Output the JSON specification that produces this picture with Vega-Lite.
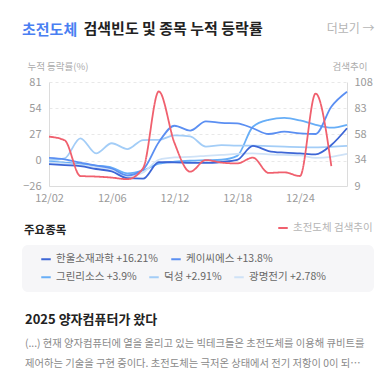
{
  "$schema": "https://vega.github.io/schema/vega-lite/v6.json",
  "padding": {"left": 22, "top": 21, "right": 10, "bottom": 5},
  "background": "#ffffff",
  "title": {"text": "초전도체", "anchor": "start", "frame": "group", "color": "#4a7ff2", "fontSize": 15, "fontWeight": "bold", "offset": -17},
  "bounds": "flush",
  "center": true,
  "spacing": 59,
  "datasets": {
    "stocks": [
      {"date": "12/02", "name": "한울소재과학", "v": -3.5}, {"date": "12/03", "name": "한울소재과학", "v": -4.5}, {"date": "12/04", "name": "한울소재과학", "v": -5.5}, {"date": "12/05", "name": "한울소재과학", "v": -8.5}, {"date": "12/06", "name": "한울소재과학", "v": -11}, {"date": "12/09", "name": "한울소재과학", "v": -18}, {"date": "12/10", "name": "한울소재과학", "v": -18.5}, {"date": "12/11", "name": "한울소재과학", "v": -1.5}, {"date": "12/12", "name": "한울소재과학", "v": -1.6}, {"date": "12/13", "name": "한울소재과학", "v": -2.3}, {"date": "12/16", "name": "한울소재과학", "v": -2.3}, {"date": "12/17", "name": "한울소재과학", "v": -1.3}, {"date": "12/18", "name": "한울소재과학", "v": 0.8}, {"date": "12/19", "name": "한울소재과학", "v": 15.2}, {"date": "12/20", "name": "한울소재과학", "v": 10}, {"date": "12/23", "name": "한울소재과학", "v": 8.3}, {"date": "12/24", "name": "한울소재과학", "v": 7.6}, {"date": "12/26", "name": "한울소재과학", "v": 6.6}, {"date": "12/27", "name": "한울소재과학", "v": 16.2}, {"date": "12/30", "name": "한울소재과학", "v": 33.4},
      {"date": "12/02", "name": "케이씨에스", "v": 3}, {"date": "12/03", "name": "케이씨에스", "v": 1.5}, {"date": "12/04", "name": "케이씨에스", "v": -2}, {"date": "12/05", "name": "케이씨에스", "v": -5}, {"date": "12/06", "name": "케이씨에스", "v": -8}, {"date": "12/09", "name": "케이씨에스", "v": -15}, {"date": "12/10", "name": "케이씨에스", "v": -9}, {"date": "12/11", "name": "케이씨에스", "v": 19}, {"date": "12/12", "name": "케이씨에스", "v": 36}, {"date": "12/13", "name": "케이씨에스", "v": 31}, {"date": "12/16", "name": "케이씨에스", "v": 40.5}, {"date": "12/17", "name": "케이씨에스", "v": 39}, {"date": "12/18", "name": "케이씨에스", "v": 38.5}, {"date": "12/19", "name": "케이씨에스", "v": 33.4}, {"date": "12/20", "name": "케이씨에스", "v": 27.5}, {"date": "12/23", "name": "케이씨에스", "v": 29.9}, {"date": "12/24", "name": "케이씨에스", "v": 28.2}, {"date": "12/26", "name": "케이씨에스", "v": 27.5}, {"date": "12/27", "name": "케이씨에스", "v": 55.6}, {"date": "12/30", "name": "케이씨에스", "v": 71},
      {"date": "12/02", "name": "그린리소스", "v": -1}, {"date": "12/03", "name": "그린리소스", "v": -2}, {"date": "12/04", "name": "그린리소스", "v": -3.5}, {"date": "12/05", "name": "그린리소스", "v": -5}, {"date": "12/06", "name": "그린리소스", "v": -7}, {"date": "12/09", "name": "그린리소스", "v": -13}, {"date": "12/10", "name": "그린리소스", "v": -10}, {"date": "12/11", "name": "그린리소스", "v": -3}, {"date": "12/12", "name": "그린리소스", "v": -1}, {"date": "12/13", "name": "그린리소스", "v": 0}, {"date": "12/16", "name": "그린리소스", "v": 0.5}, {"date": "12/17", "name": "그린리소스", "v": 1}, {"date": "12/18", "name": "그린리소스", "v": 5}, {"date": "12/19", "name": "그린리소스", "v": 35}, {"date": "12/20", "name": "그린리소스", "v": 42}, {"date": "12/23", "name": "그린리소스", "v": 44}, {"date": "12/24", "name": "그린리소스", "v": 41.5}, {"date": "12/26", "name": "그린리소스", "v": 37}, {"date": "12/27", "name": "그린리소스", "v": 34}, {"date": "12/30", "name": "그린리소스", "v": 37},
      {"date": "12/02", "name": "덕성", "v": 0.5}, {"date": "12/03", "name": "덕성", "v": 2.5}, {"date": "12/04", "name": "덕성", "v": 23}, {"date": "12/05", "name": "덕성", "v": 7.6}, {"date": "12/06", "name": "덕성", "v": 18}, {"date": "12/09", "name": "덕성", "v": 12}, {"date": "12/10", "name": "덕성", "v": 21.3}, {"date": "12/11", "name": "덕성", "v": 21.5}, {"date": "12/12", "name": "덕성", "v": 26}, {"date": "12/13", "name": "덕성", "v": 25}, {"date": "12/16", "name": "덕성", "v": 14.5}, {"date": "12/17", "name": "덕성", "v": 16}, {"date": "12/18", "name": "덕성", "v": 15.5}, {"date": "12/19", "name": "덕성", "v": 15.5}, {"date": "12/20", "name": "덕성", "v": 15}, {"date": "12/23", "name": "덕성", "v": 14.5}, {"date": "12/24", "name": "덕성", "v": 14}, {"date": "12/26", "name": "덕성", "v": 13.8}, {"date": "12/27", "name": "덕성", "v": 14.3}, {"date": "12/30", "name": "덕성", "v": 15.2},
      {"date": "12/02", "name": "광명전기", "v": -2}, {"date": "12/03", "name": "광명전기", "v": -3}, {"date": "12/04", "name": "광명전기", "v": -4.5}, {"date": "12/05", "name": "광명전기", "v": -6.5}, {"date": "12/06", "name": "광명전기", "v": -9}, {"date": "12/09", "name": "광명전기", "v": -16}, {"date": "12/10", "name": "광명전기", "v": -12}, {"date": "12/11", "name": "광명전기", "v": 1}, {"date": "12/12", "name": "광명전기", "v": 3.5}, {"date": "12/13", "name": "광명전기", "v": 4}, {"date": "12/16", "name": "광명전기", "v": 5}, {"date": "12/17", "name": "광명전기", "v": 6}, {"date": "12/18", "name": "광명전기", "v": 7}, {"date": "12/19", "name": "광명전기", "v": 7.5}, {"date": "12/20", "name": "광명전기", "v": 6.5}, {"date": "12/23", "name": "광명전기", "v": 6}, {"date": "12/24", "name": "광명전기", "v": 5.5}, {"date": "12/26", "name": "광명전기", "v": 3}, {"date": "12/27", "name": "광명전기", "v": 4}, {"date": "12/30", "name": "광명전기", "v": 7}
    ],
    "search": [
      {"date": "12/02", "series": "초전도체 검색추이", "v": 56}, {"date": "12/03", "series": "초전도체 검색추이", "v": 52.5}, {"date": "12/04", "series": "초전도체 검색추이", "v": 18.5}, {"date": "12/05", "series": "초전도체 검색추이", "v": 18}, {"date": "12/06", "series": "초전도체 검색추이", "v": 17}, {"date": "12/09", "series": "초전도체 검색추이", "v": 15.5}, {"date": "12/10", "series": "초전도체 검색추이", "v": 26}, {"date": "12/11", "series": "초전도체 검색추이", "v": 99}, {"date": "12/12", "series": "초전도체 검색추이", "v": 50}, {"date": "12/13", "series": "초전도체 검색추이", "v": 22.6}, {"date": "12/16", "series": "초전도체 검색추이", "v": 33.7}, {"date": "12/17", "series": "초전도체 검색추이", "v": 31.3}, {"date": "12/18", "series": "초전도체 검색추이", "v": 30.5}, {"date": "12/19", "series": "초전도체 검색추이", "v": 36}, {"date": "12/20", "series": "초전도체 검색추이", "v": 21.5}, {"date": "12/23", "series": "초전도체 검색추이", "v": 22}, {"date": "12/24", "series": "초전도체 검색추이", "v": 18.5}, {"date": "12/26", "series": "초전도체 검색추이", "v": 97}, {"date": "12/27", "series": "초전도체 검색추이", "v": 28}
    ]
  },
  "vconcat": [
    {
      "width": 298,
      "height": 104,
      "layer": [
        {
          "data": {"name": "stocks"},
          "encoding": {
            "x": {"field": "date", "type": "ordinal", "scale": {"type": "point", "padding": 0},
              "axis": {"values": ["12/02", "12/06", "12/12", "12/18", "12/24"], "labelAngle": 0, "labelPadding": 6, "domain": true,
                "title": "더보기 →", "titleX": 325, "titleY": -158, "titleAlign": "right", "titleBaseline": "middle", "titleColor": "#b5b5b5", "titleFontSize": 12, "titleFontWeight": "normal"}},
            "y": {"field": "v", "type": "quantitative", "scale": {"domain": [-26, 81], "nice": false, "zero": false},
              "axis": {"values": [-26, 0, 27, 54, 81], "grid": true, "gridDash": [3, 3], "gridColor": "#e8e8e8", "labelPadding": 8,
                "title": "누적 등락률(%)", "titleAngle": 0, "titleX": -22, "titleY": -16, "titleAlign": "left", "titleBaseline": "middle", "titleColor": "#ababab", "titleFontSize": 9.5, "titleFontWeight": "normal"}}
          },
          "layer": [
            {
              "transform": [{"filter": {"field": "name", "oneOf": ["그린리소스", "덕성", "광명전기"]}}],
              "mark": {"type": "line", "interpolate": "monotone", "strokeWidth": 1.8},
              "encoding": {
                "stroke": {"field": "name", "type": "nominal",
                  "scale": {"domain": ["그린리소스", "덕성", "광명전기"], "range": ["#67aef7", "#a3cdf7", "#cfe2f7"]},
                  "legend": {"title": null, "orient": "none", "direction": "horizontal", "legendX": 18, "legendY": 189,
                    "labelExpr": "datum.label == '그린리소스' ? '그린리소스 +3.9%' : datum.label == '덕성' ? '덕성 +2.91%' : '광명전기 +2.78%'"}}
              }
            },
            {
              "transform": [{"filter": {"field": "name", "oneOf": ["한울소재과학", "케이씨에스"]}}],
              "mark": {"type": "line", "interpolate": "monotone", "strokeWidth": 1.8},
              "encoding": {
                "color": {"field": "name", "type": "nominal",
                  "scale": {"domain": ["한울소재과학", "케이씨에스"], "range": ["#3d66d6", "#5b8ff2"]},
                  "legend": {"title": null, "orient": "none", "direction": "horizontal", "legendX": 18, "legendY": 171,
                    "labelExpr": "datum.label == '한울소재과학' ? '한울소재과학 +16.21%' : '케이씨에스 +13.8%'"}}
              }
            }
          ]
        },
        {
          "data": {"name": "search"},
          "mark": {"type": "line", "interpolate": "monotone", "strokeWidth": 1.8, "color": "#f0606e"},
          "encoding": {
            "x": {"field": "date", "type": "ordinal", "scale": {"type": "point", "padding": 0},
              "axis": {"orient": "top", "labels": false, "domain": false, "ticks": false, "grid": false,
                "title": "검색빈도 및 종목 누적 등락률", "titleX": 34, "titleY": -54, "titleAlign": "left", "titleBaseline": "middle", "titleColor": "#222222", "titleFontSize": 15, "titleFontWeight": "bold"}},
            "y": {"field": "v", "type": "quantitative", "scale": {"domain": [9, 108], "nice": false, "zero": false},
              "axis": {"orient": "right", "values": [9, 34, 58, 83, 108], "labelPadding": 7, "grid": false,
                "title": "검색추이", "titleAngle": 0, "titleX": 20, "titleY": -16, "titleAlign": "right", "titleBaseline": "middle", "titleColor": "#ababab", "titleFontSize": 9.5, "titleFontWeight": "normal"}},
            "strokeDash": {"field": "series", "type": "nominal", "scale": {"range": [[1, 0]]},
              "legend": {"title": null, "orient": "none", "direction": "horizontal", "legendX": 255, "legendY": 140, "labelColor": "#b5b5b5", "symbolStrokeColor": "#f0606e"}}
          }
        }
      ],
      "resolve": {"scale": {"y": "independent"}, "axis": {"x": "independent", "y": "independent"}}
    },
    {
      "width": 352,
      "height": 47,
      "view": {"fill": "#f6f6f8", "cornerRadius": 6, "stroke": null},
      "title": {"text": "주요종목", "anchor": "start", "frame": "group", "offset": 9, "fontSize": 11.5, "fontWeight": "bold", "color": "#222222", "dx": 2},
      "data": {"values": []},
      "mark": "text",
      "encoding": {}
    },
    {
      "width": 352,
      "height": 10,
      "title": {"text": "2025 양자컴퓨터가 왔다",
        "subtitle": ["(...) 현재 양자컴퓨터에 열을 올리고 있는 빅테크들은 초전도체를 이용해 큐비트를", "제어하는 기술을 구현 중이다. 초전도체는 극저온 상태에서 전기 저항이 0이 되…"],
        "anchor": "start", "frame": "group", "offset": -18.5, "fontSize": 13, "fontWeight": "bold", "color": "#222222",
        "subtitleColor": "#8a8a8a", "subtitleFontSize": 10.3, "subtitleLineHeight": 20, "subtitlePadding": 12.5, "dx": 3},
      "data": {"values": []},
      "mark": "text",
      "encoding": {}
    }
  ],
  "config": {
    "font": "Noto Sans CJK KR",
    "view": {"stroke": null},
    "axis": {"ticks": false, "labelColor": "#9a9a9a", "labelFontSize": 11, "domainColor": "#dcdcdc", "labelFont": "Noto Sans CJK KR", "titleFont": "Noto Sans CJK KR"},
    "legend": {"symbolType": "stroke", "symbolStrokeWidth": 2, "symbolSize": 90, "labelFontSize": 10.5, "labelColor": "#666666", "labelOffset": 4, "columnPadding": 8, "padding": 0, "labelFont": "Noto Sans CJK KR"},
    "title": {"font": "Noto Sans CJK KR", "subtitleFont": "Noto Sans CJK KR"}
  }
}
